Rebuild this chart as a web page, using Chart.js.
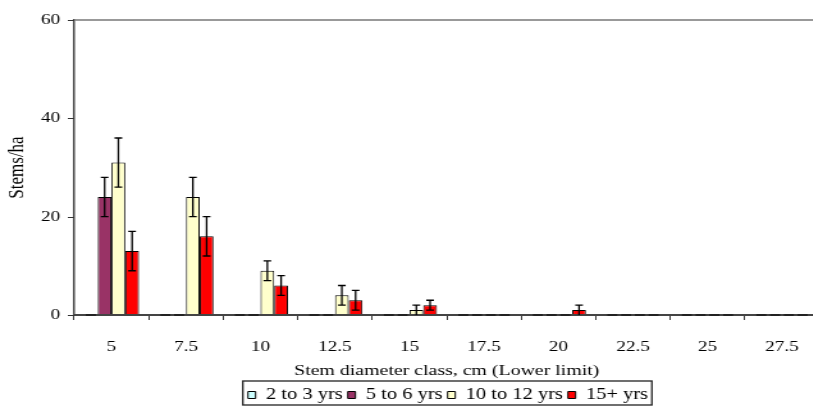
<!DOCTYPE html>
<html>
<head>
<meta charset="utf-8">
<script src="https://cdn.jsdelivr.net/npm/chart.js@4"></script>
<style>
  html, body { margin: 0; padding: 0; background: #fff; overflow: hidden; }
  #wrap { width: 813px; height: 407px; overflow: hidden; }
  /* the chart is drawn narrow and widened, like the pasted spreadsheet figure */
  #stemChart { transform: scaleX(1.28); transform-origin: 0 0; }
</style>
</head>
<body>
<div id="wrap"><canvas id="stemChart" width="700" height="407"></canvas></div>
<script>
// stem density by diameter class, per age group
const diameterClasses = ['5', '7.5', '10', '12.5', '15', '17.5', '20', '22.5', '25', '27.5'];
const ageGroups = ['2 to 3 yrs', '5 to 6 yrs', '10 to 12 yrs', '15+ yrs'];
const stems2to3 = [0, 0, 0, 0, 0, 0, 0, 0, 0, 0];
const stems5to6 = [24, 0, 0, 0, 0, 0, 0, 0, 0, 0];
const stems10to12 = [31, 24, 9, 4, 1, 0, 0, 0, 0, 0];
const stems15plus = [13, 16, 6, 3, 2, 0, 1, 0, 0, 0];
// standard errors (+/-)
const err2to3 = [0, 0, 0, 0, 0, 0, 0, 0, 0, 0];
const err5to6 = [4, 0, 0, 0, 0, 0, 0, 0, 0, 0];
const err10to12 = [5, 4, 2, 2, 1, 0, 0, 0, 0, 0];
const err15plus = [4, 4, 2, 2, 1, 0, 1, 0, 0, 0];
const yTicks = [0, 20, 40, 60];
const xTitle = 'Stem diameter class, cm (Lower limit)';

const fillColors = ['#CCFFFF', '#993366', '#FFFFCC', '#FF0000'];
const seriesValues = [stems2to3, stems5to6, stems10to12, stems15plus];
const seriesErrors = [err2to3, err5to6, err10to12, err15plus];

const serif = '"Liberation Serif", "Times New Roman", serif';
const legendFont = 16;
const legendPad = 4;

// error bars + little dashes for empty bars
const errorBarPlugin = {
    id: 'errorBars',
    afterDatasetsDraw(chart) {
        const ctx = chart.ctx;
        const yScale = chart.scales.y;
        ctx.save();
        chart.data.datasets.forEach((ds, i) => {
            const meta = chart.getDatasetMeta(i);
            meta.data.forEach((bar, j) => {
                const v = ds.data[j];
                const e = seriesErrors[i][j];
                if (v === 0) {
                    ctx.strokeStyle = '#222';
                    ctx.lineWidth = 2;
                    ctx.beginPath();
                    ctx.moveTo(bar.x - bar.width / 2 + 1.5, yScale.getPixelForValue(0));
                    ctx.lineTo(bar.x + bar.width / 2 - 1.5, yScale.getPixelForValue(0));
                    ctx.stroke();
                }
                if (e > 0) {
                    const top = yScale.getPixelForValue(v + e);
                    const bot = yScale.getPixelForValue(Math.max(0, v - e));
                    ctx.strokeStyle = '#000';
                    ctx.lineWidth = 1.3;
                    ctx.beginPath();
                    ctx.moveTo(bar.x, top);
                    ctx.lineTo(bar.x, bot);
                    ctx.moveTo(bar.x - 3, top);
                    ctx.lineTo(bar.x + 3, top);
                    if (v - e > 0) {
                        ctx.moveTo(bar.x - 3, bot);
                        ctx.lineTo(bar.x + 3, bot);
                    }
                    ctx.stroke();
                }
            });
        });
        ctx.restore();
    },
    afterDraw(chart) {
        const ctx = chart.ctx;
        // short outside tick marks on the value axis
        const y = chart.scales.y;
        ctx.save();
        ctx.strokeStyle = '#333';
        ctx.lineWidth = 1;
        yTicks.forEach(v => {
            const py = Math.round(y.getPixelForValue(v)) + 0.5;
            ctx.beginPath();
            ctx.moveTo(y.right - 5, py);
            ctx.lineTo(y.right, py);
            ctx.stroke();
        });
        // category axis title, under the tick labels
        const x = chart.scales.x;
        ctx.fillStyle = '#000';
        ctx.font = '15.5px ' + serif;
        ctx.textAlign = 'center';
        ctx.textBaseline = 'middle';
        ctx.fillText(xTitle, (x.left + x.right) / 2, x.top + 56);
        // frame around the legend row
        const lg = chart.legend;
        const boxes = lg.legendHitBoxes;
        const last = boxes[boxes.length - 1];
        const x0 = boxes[0].left - 4;
        const x1 = last.left + last.width + 3;
        const mid = lg.top + legendPad + legendFont / 2;
        ctx.strokeStyle = '#222';
        ctx.lineWidth = 1.3;
        ctx.strokeRect(x0, mid - 14, x1 - x0, 24);
        ctx.restore();
    }
};

new Chart(document.getElementById('stemChart').getContext('2d'), {
    type: 'bar',
    data: {
        labels: diameterClasses,
        datasets: ageGroups.map((name, i) => ({
            label: name,
            data: seriesValues[i],
            backgroundColor: fillColors[i],
            borderColor: '#000',
            borderWidth: 1,
            categoryPercentage: 0.738,
            barPercentage: 1.0
        }))
    },
    options: {
        responsive: false,
        animation: false,
        layout: { autoPadding: false, padding: { top: 15, right: 0, left: 0, bottom: -6 } },
        plugins: {
            tooltip: { enabled: false },
            legend: {
                position: 'bottom',
                labels: {
                    color: '#000',
                    font: { family: serif, size: legendFont },
                    boxWidth: 6,
                    boxHeight: 7,
                    padding: legendPad,
                    generateLabels(chart) {
                        return chart.data.datasets.map((ds, i) => ({
                            text: ds.label,
                            fillStyle: ds.backgroundColor,
                            strokeStyle: '#000',
                            lineWidth: 1,
                            datasetIndex: i
                        }));
                    }
                }
            }
        },
        scales: {
            x: {
                afterFit(scale) { scale.height = 68; },
                grid: {
                    display: true,
                    drawOnChartArea: false,
                    drawTicks: true,
                    tickLength: 5,
                    color: '#333'
                },
                border: { color: '#444', width: 2 },
                ticks: { color: '#000', font: { family: serif, size: 15 }, padding: 18 }
            },
            y: {
                min: 0,
                max: 60,
                afterBuildTicks(scale) {
                    scale.ticks = yTicks.map(v => ({ value: v }));
                },
                afterFit(scale) { scale.width = 58; },
                grid: {
                    color: ctx => ctx.tick && ctx.tick.value === 60 ? '#999' : 'rgba(0,0,0,0)',
                    lineWidth: 2,
                    drawTicks: false
                },
                border: { color: '#444', width: 1.5 },
                ticks: { color: '#000', font: { family: serif, size: 15 }, padding: 11 },
                title: {
                    display: true,
                    text: 'Stems/ha',
                    color: '#000',
                    font: { family: serif, size: 17 },
                    padding: { top: 3, bottom: 0 }
                }
            },
            // empty right-hand margin so the legend stays centred on the whole figure
            margin: {
                position: 'right',
                display: true,
                afterFit(scale) { scale.width = 60; },
                grid: { display: false },
                border: { display: false },
                ticks: { display: false }
            }
        }
    },
    plugins: [errorBarPlugin]
});
</script>
</body>
</html>
